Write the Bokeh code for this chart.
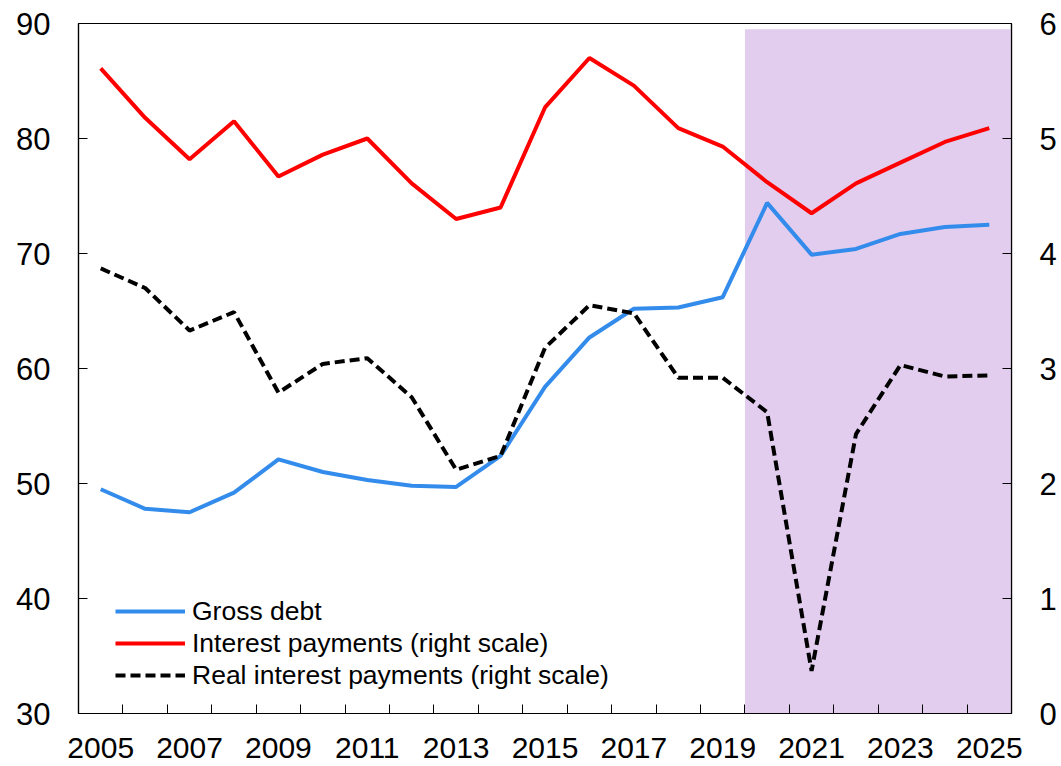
from bokeh.plotting import figure
from bokeh.models import (Range1d, LinearAxis, FixedTicker, BoxAnnotation, Legend, LegendItem)
from bokeh.embed import file_html
from bokeh.resources import INLINE

years = list(range(2005, 2026))
gross_debt = [49.5, 47.8, 47.5, 49.2, 52.1, 51.0, 50.3, 49.8, 49.7, 52.4, 58.4,
              62.7, 65.2, 65.3, 66.2, 74.4, 69.9, 70.4, 71.7, 72.3, 72.5]
interest = [5.61, 5.18, 4.82, 5.15, 4.67, 4.86, 5.00, 4.61, 4.30, 4.40, 5.27,
            5.70, 5.46, 5.09, 4.93, 4.62, 4.35, 4.61, 4.79, 4.97, 5.09]
real_interest = [3.87, 3.70, 3.33, 3.49, 2.79, 3.04, 3.09, 2.75, 2.12, 2.24, 3.18,
                 3.55, 3.48, 2.92, 2.92, 2.62, 0.37, 2.43, 3.03, 2.93, 2.94]
x_labels = list(range(2005, 2026, 2))
left_ticks = [30, 40, 50, 60, 70, 80, 90]
right_ticks = [0, 1, 2, 3, 4, 5, 6]
shade_start, shade_end = 2019.5, 2025.5

FONT = "Liberation Sans"

p = figure(width=1061, height=766, output_backend="svg", toolbar_location=None,
           x_range=Range1d(2004.5, 2025.5), y_range=Range1d(30, 90),
           min_border_left=78, min_border_right=50, min_border_top=23, min_border_bottom=53)
p.extra_y_ranges = {"right": Range1d(0, 6)}
p.grid.visible = False
p.outline_line_color = "black"
p.outline_line_width = 1.2
p.background_fill_color = "white"
p.border_fill_color = "white"

shade = BoxAnnotation(left=shade_start, right=shade_end, top=89.5, bottom=30,
                      fill_color="#e2cdef", fill_alpha=1.0, line_alpha=0, level="underlay")
p.add_layout(shade)

r_blue = p.line(years, gross_debt, line_color="#338ceb", line_width=4)
r_red = p.line(years, interest, line_color="#ff0000", line_width=4, y_range_name="right")
r_blk = p.line(years, real_interest, line_color="black", line_width=4,
               line_dash="10 5", y_range_name="right")

def style_axis(ax, size="31px"):
    ax.axis_line_color = "black"
    ax.axis_line_width = 1.2
    ax.major_label_text_font = FONT
    ax.major_label_text_font_size = size
    ax.major_label_text_color = "black"
    ax.major_tick_line_color = "black"
    ax.minor_tick_line_color = "black"

# bottom axis: labels at odd years, tick marks at band boundaries (minor)
xa = p.xaxis[0]
xa.ticker = FixedTicker(ticks=x_labels, minor_ticks=[y + 0.5 for y in range(2005, 2025)])
style_axis(xa, "30px")
xa.major_tick_in = 0
xa.major_tick_out = 0
xa.minor_tick_in = 9
xa.minor_tick_out = 0
xa.major_label_standoff = 24

ya = p.yaxis[0]
ya.ticker = FixedTicker(ticks=left_ticks)
style_axis(ya)
ya.major_tick_in = 9
ya.major_tick_out = 0
ya.minor_tick_in = 0
ya.minor_tick_out = 0
ya.major_label_standoff = 28

ra = LinearAxis(y_range_name="right", ticker=FixedTicker(ticks=right_ticks))
style_axis(ra)
ra.major_tick_in = 9
ra.major_tick_out = 0
ra.minor_tick_in = 0
ra.minor_tick_out = 0
ra.major_label_standoff = 28
p.add_layout(ra, "right")

legend = Legend(items=[
    LegendItem(label="Gross debt", renderers=[r_blue]),
    LegendItem(label="Interest payments (right scale)", renderers=[r_red]),
    LegendItem(label="Real interest payments (right scale)", renderers=[r_blk]),
], location=(37, 22))
legend.label_text_font = FONT
legend.label_text_font_size = "26.5px"
legend.label_text_color = "black"
legend.glyph_width = 70
legend.glyph_height = 32
legend.label_height = 32
legend.label_standoff = 7
legend.spacing = 0
legend.padding = 0
legend.margin = 0
legend.border_line_alpha = 0
legend.background_fill_alpha = 0
p.add_layout(legend, "center")

open("out.html", "w").write(file_html(p, INLINE))
